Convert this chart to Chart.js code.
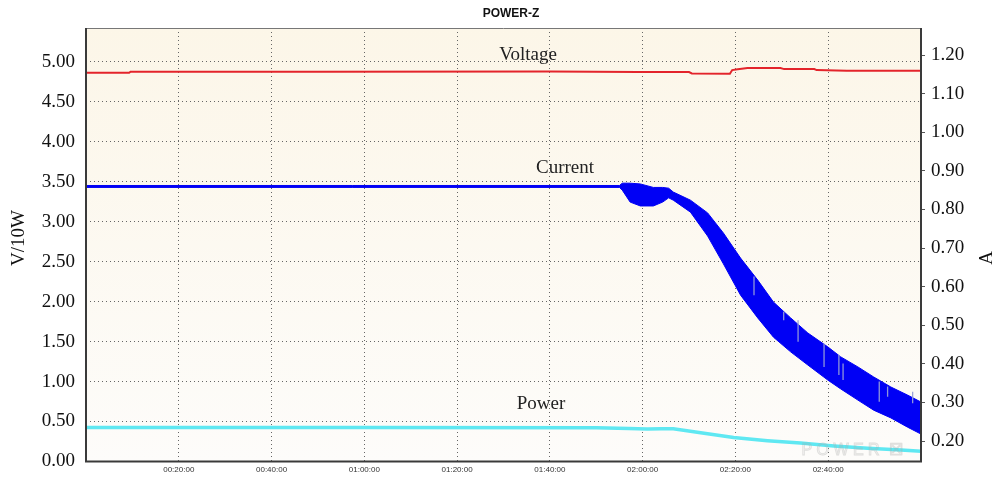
<!DOCTYPE html>
<html><head><meta charset="utf-8">
<script src="https://cdn.jsdelivr.net/npm/chart.js@4.4.1/dist/chart.umd.min.js"></script>
<style>html,body{margin:0;padding:0;background:#fff;overflow:hidden}#wrap{width:995px;height:478px;position:relative}canvas{display:block}</style>
</head><body><div id="wrap"><canvas id="c" width="995" height="478"></canvas></div>
<script>
// ---- data (time in minutes) ----
const chartTitle = 'POWER-Z';
const xTickMinutes = [20, 40, 60, 80, 100, 120, 140, 160];
const leftTicks = [0, 0.5, 1, 1.5, 2, 2.5, 3, 3.5, 4, 4.5, 5];
const rightTicks = [0.2, 0.3, 0.4, 0.5, 0.6, 0.7, 0.8, 0.9, 1.0, 1.1, 1.2];

const voltTime   = [0, 9.3, 9.6, 50, 100, 119, 130, 130.6, 138.8, 139.3, 140.5, 142.6, 149.7, 150.5, 157, 157.5, 164, 180];
const voltValues = [4.86, 4.86, 4.873, 4.873, 4.875, 4.869, 4.869, 4.852, 4.848, 4.894, 4.905, 4.92, 4.92, 4.906, 4.906, 4.894, 4.886, 4.886];

const currentTime  = [0, 115, 115.6, 117.3, 119.5, 122.3, 124.3, 125.6, 126.6, 130.3, 134.0, 137.4, 141.1, 144.8, 148.2, 151.9, 155.6, 159.9, 162.7, 166.4, 169.8, 173.5, 177.1, 180];
const currentUpper = [0.862, 0.862, 0.868, 0.868, 0.866, 0.857, 0.857, 0.855, 0.845, 0.824, 0.791, 0.739, 0.674, 0.617, 0.560, 0.519, 0.480, 0.444, 0.418, 0.392, 0.366, 0.340, 0.319, 0.301];
const currentLower = [0.857, 0.857, 0.850, 0.819, 0.809, 0.809, 0.819, 0.830, 0.824, 0.793, 0.731, 0.659, 0.578, 0.519, 0.469, 0.431, 0.397, 0.358, 0.335, 0.306, 0.280, 0.260, 0.236, 0.218];

const spikeTime = [144.0, 150.4, 153.5, 159.1, 162.3, 163.2, 171.0, 172.8, 178.2];
const spikeHigh = [0.626, 0.535, 0.513, 0.453, 0.423, 0.401, 0.354, 0.341, 0.328];
const spikeLow  = [0.578, 0.513, 0.457, 0.392, 0.371, 0.358, 0.302, 0.315, 0.298];

const powerTime   = [0, 60, 110, 117, 121, 124, 126.6, 132.5, 139.6, 146.9, 154, 161.2, 168.5, 175.7, 180];
const powerValues = [0.425, 0.425, 0.423, 0.412, 0.405, 0.41, 0.41, 0.36, 0.30, 0.26, 0.23, 0.194, 0.165, 0.144, 0.128];

// ---- helpers ----
const pts = (xs, ys) => xs.map((x, i) => ({x, y: ys[i]}));
const spikePts = [];
spikeTime.forEach((t, i) => { spikePts.push({x: t, y: spikeLow[i]}, {x: t, y: spikeHigh[i]}, {x: t, y: null}); });
const hms = m => { const h = Math.floor(m / 60), mm = Math.round(m % 60); return String(h).padStart(2,'0') + ':' + String(mm).padStart(2,'0') + ':00'; };
const SERIF = '"Liberation Serif", "Times New Roman", serif';

const bgPlugin = {
  id: 'bg',
  beforeDraw(chart) {
    const {ctx, chartArea: a} = chart;
    const g = ctx.createLinearGradient(0, a.top, 0, a.bottom);
    g.addColorStop(0, '#fcf6e8');
    g.addColorStop(1, '#fdfcfa');
    ctx.save(); ctx.fillStyle = g; ctx.fillRect(a.left, a.top, a.right - a.left, a.bottom - a.top); ctx.restore();
  }
};
const decoPlugin = {
  id: 'deco',
  afterDraw(chart) {
    const {ctx, chartArea: a} = chart;
    ctx.save();
    // watermark
    ctx.font = '16px "Liberation Sans"'; ctx.strokeStyle = 'rgba(170,170,170,0.35)'; ctx.lineWidth = 1;
    ctx.textAlign = 'center'; ctx.textBaseline = 'middle';
    ctx.strokeText('P O W E R  ☒', 852, 451);
    // frame
    ctx.strokeStyle = '#777'; ctx.lineWidth = 1;
    ctx.beginPath(); ctx.moveTo(a.left, a.top + 0.5); ctx.lineTo(a.right, a.top + 0.5); ctx.stroke();
    ctx.strokeStyle = '#3a3a3a'; ctx.lineWidth = 2;
    ctx.beginPath(); ctx.moveTo(a.left, a.top); ctx.lineTo(a.left, a.bottom); ctx.lineTo(a.right, a.bottom); ctx.lineTo(a.right, a.top); ctx.stroke();
    // title
    ctx.fillStyle = '#111'; ctx.font = 'bold 12px "Liberation Sans"';
    ctx.fillText(chartTitle, 511, 14);
    // series labels
    ctx.fillStyle = '#222'; ctx.font = '19px ' + SERIF;
    ctx.fillText('Voltage', 528, 55);
    ctx.fillText('Current', 565, 168);
    ctx.fillText('Power', 541, 404);
    // axis titles
    ctx.font = '19px ' + SERIF; ctx.fillStyle = '#111';
    ctx.translate(19, 238); ctx.rotate(-Math.PI / 2); ctx.fillText('V/10W', 0, 0);
    ctx.setTransform(1, 0, 0, 1, 0, 0);
    ctx.translate(987, 258); ctx.rotate(-Math.PI / 2); ctx.fillText('A', 0, 0);
    ctx.restore();
  }
};

new Chart(document.getElementById('c'), {
  type: 'line',
  data: {
    datasets: [
      {label: 'Voltage', data: pts(voltTime, voltValues), yAxisID: 'y', borderColor: '#e3242b', borderWidth: 2, pointRadius: 0, fill: false},
      {label: 'spikes', data: spikePts, yAxisID: 'y1', borderColor: 'rgba(150,158,215,0.95)', borderWidth: 1.3, pointRadius: 0, spanGaps: false, fill: false},
      {label: 'Power', data: pts(powerTime, powerValues), yAxisID: 'y', borderColor: '#5fe8f2', borderWidth: 3.5, pointRadius: 0, fill: false},
      {label: 'Current', data: pts(currentTime, currentUpper), yAxisID: 'y1', borderColor: '#0000f5', backgroundColor: '#0000f5', borderWidth: 1, pointRadius: 0, fill: '+1'},
      {label: 'Current low', data: pts(currentTime, currentLower), yAxisID: 'y1', borderColor: '#0000f5', borderWidth: 1, pointRadius: 0, fill: false}
    ]
  },
  options: {
    responsive: false, animation: false, devicePixelRatio: 1,
    layout: {padding: {top: 28, left: 0, right: 0, bottom: 0}},
    plugins: {legend: {display: false}, tooltip: {enabled: false}, title: {display: false}},
    elements: {line: {tension: 0}},
    scales: {
      x: {
        type: 'linear', min: 0, max: 180, offset: false,
        afterBuildTicks: s => { s.ticks = xTickMinutes.map(v => ({value: v})); },
        afterFit: s => { s.height = 16.5; },
        grid: {color: '#666', lineWidth: 1, drawTicks: false},
        border: {display: false, dash: [1, 3]},
        ticks: {callback: v => hms(v), font: {family: 'Liberation Sans', size: 8}, color: '#333', padding: 3, maxRotation: 0, autoSkip: false}
      },
      y: {
        position: 'left', min: 0, max: 5.42,
        afterBuildTicks: s => { s.ticks = leftTicks.map(v => ({value: v})); },
        afterFit: s => { s.width = 86; },
        grid: {color: '#666', lineWidth: 1, drawTicks: true, tickLength: 11, tickColor: 'rgba(0,0,0,0)'},
        border: {display: false, dash: [1, 3]},
        ticks: {callback: v => Number(v).toFixed(2), font: {family: 'Liberation Serif', size: 19, lineHeight: 1}, color: '#111', padding: 0}
      },
      y1: {
        position: 'right', min: 0.147, max: 1.27,
        afterBuildTicks: s => { s.ticks = rightTicks.map(v => ({value: v})); },
        afterFit: s => { s.width = 74; },
        grid: {drawOnChartArea: false, drawTicks: true, tickLength: 4, tickColor: '#555', tickWidth: 1},
        border: {display: false},
        ticks: {callback: v => Number(v).toFixed(2), font: {family: 'Liberation Serif', size: 19, lineHeight: 1}, color: '#111', padding: 6}
      }
    }
  },
  plugins: [bgPlugin, decoPlugin]
});
</script></body></html>
